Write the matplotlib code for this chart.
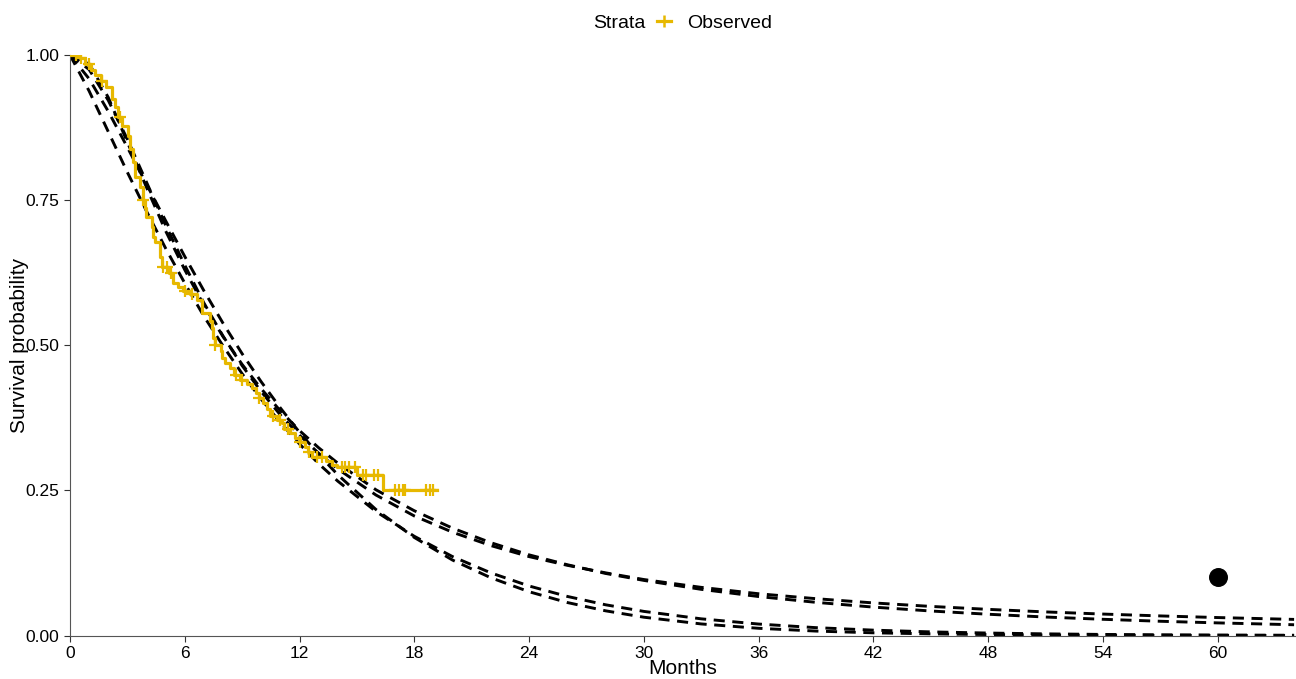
import matplotlib
matplotlib.use("Agg")

import numpy as np
import matplotlib.pyplot as plt
from matplotlib.lines import Line2D

# Kaplan-Meier estimate (step times and survival after each step)
km_time = [0, 0.5, 0.8, 1.1, 1.3, 1.6, 1.9, 2.2, 2.35, 2.5, 2.7, 3.05, 3.15, 3.3, 3.4,
           3.65, 3.8, 3.9, 4.0, 4.3, 4.35, 4.45, 4.7, 4.8, 5.2, 5.4, 5.65, 5.9, 6.3,
           6.65, 6.9, 7.3, 7.4, 7.5, 7.6, 7.9, 7.95, 8.1, 8.35, 8.6, 8.9, 9.25, 9.5,
           9.75, 9.9, 10.1, 10.3, 10.45, 10.8, 11.1, 11.2, 11.5, 11.75, 12.0, 12.3,
           12.45, 12.65, 13.4, 13.7, 13.95, 15.0, 16.35]
km_surv = [1.0, 0.995, 0.985, 0.975, 0.966, 0.955, 0.945, 0.925, 0.91, 0.893, 0.877,
           0.86, 0.838, 0.815, 0.79, 0.773, 0.75, 0.737, 0.721, 0.704, 0.687, 0.678,
           0.652, 0.635, 0.625, 0.607, 0.60, 0.594, 0.588, 0.578, 0.556, 0.542, 0.53,
           0.513, 0.50, 0.49, 0.478, 0.47, 0.461, 0.449, 0.44, 0.434, 0.427, 0.418,
           0.41, 0.40, 0.39, 0.378, 0.372, 0.366, 0.356, 0.349, 0.341, 0.334, 0.325,
           0.317, 0.308, 0.30, 0.294, 0.291, 0.277, 0.251]
km_end = 19.2
censor_time = [0.3, 0.6, 1.0, 1.7, 2.6, 3.8, 4.85, 5.05, 5.3, 6.0, 6.4, 7.6, 8.7,
               9.0, 9.9, 10.6, 11.0, 11.4, 12.0, 12.5, 12.9, 13.2, 14.2, 14.4, 14.6,
               14.9, 15.3, 15.5, 15.9, 16.1, 17.0, 17.2, 17.4, 17.5, 18.6, 18.8, 19.0]

# parametric model extrapolations
fit_months = [0, 1, 2, 3, 4, 5, 6, 7, 8, 9, 10, 11, 12, 13, 14, 16, 18, 20, 22, 24,
              26, 28, 30, 33, 36, 39, 42, 45, 48, 51, 54, 57, 60, 64]
fit_a = [1.0, 0.975, 0.922, 0.855, 0.781, 0.707, 0.638, 0.573, 0.516, 0.465, 0.420,
         0.380, 0.345, 0.314, 0.287, 0.242, 0.206, 0.178, 0.155, 0.136, 0.121, 0.108,
         0.0965, 0.083, 0.072, 0.0635, 0.0562, 0.0502, 0.0451, 0.0407, 0.037, 0.0338,
         0.031, 0.0278]
fit_b = [1.0, 0.985, 0.927, 0.850, 0.772, 0.697, 0.630, 0.569, 0.515, 0.467, 0.425,
         0.387, 0.353, 0.3235, 0.297, 0.251, 0.215, 0.185, 0.160, 0.139, 0.122, 0.107,
         0.095, 0.0796, 0.0672, 0.0572, 0.049, 0.0423, 0.0367, 0.0319, 0.028, 0.0246,
         0.0218, 0.0186]
fit_c = [1.0, 0.938, 0.868, 0.798, 0.731, 0.667, 0.607, 0.550, 0.499, 0.451, 0.407,
         0.367, 0.330, 0.296, 0.266, 0.2136, 0.171, 0.136, 0.108, 0.0854, 0.0674, 0.053,
         0.0416, 0.0288, 0.0198, 0.0136, 0.0093, 0.0063, 0.0043, 0.0029, 0.0019, 0.0013,
         0.0009, 0.0005]
fit_d = [1.0, 0.959, 0.903, 0.841, 0.7775, 0.7146, 0.653, 0.594, 0.538, 0.4855, 0.437,
         0.392, 0.350, 0.312, 0.277, 0.217, 0.169, 0.130, 0.0996, 0.0755, 0.0569, 0.0426,
         0.0316, 0.020, 0.0125, 0.0077, 0.0047, 0.0029, 0.0017, 0.001, 0.0006, 0.0003,
         0.0002, 0.0001]

target_month = [60]
target_surv = [0.10]

x_ticks = [0, 6, 12, 18, 24, 30, 36, 42, 48, 54, 60]
y_ticks = [0.0, 0.25, 0.50, 0.75, 1.00]
y_ticklabels = ["0.00", "0.25", "0.50", "0.75", "1.00"]

km_color = "#E7B800"

plt.rcParams["font.family"] = ["Liberation Sans", "DejaVu Sans"]

fig = plt.figure(figsize=(12.96, 6.79), dpi=100)
ax = fig.add_axes([0.054, 0.064, 0.946, 0.855])

for fit in (fit_a, fit_b, fit_c, fit_d):
    ax.plot(fit_months, fit, color="black", lw=2.1, dashes=(3.8, 2.6), zorder=2)

ax.step(km_time + [km_end], km_surv + [km_surv[-1]], where="post",
        color=km_color, lw=2.3, zorder=3)
idx = np.searchsorted(km_time, censor_time, side="right") - 1
ax.plot(censor_time, np.array(km_surv)[idx], ls="none", marker="+",
        ms=8, mew=1.6, color=km_color, zorder=4)

ax.scatter(target_month, target_surv, s=160, color="black", zorder=5)

ax.set_xlim(0, 64.1)
ax.set_ylim(0, 1)
ax.set_xticks(x_ticks)
ax.set_yticks(y_ticks)
ax.set_yticklabels(y_ticklabels)
ax.tick_params(labelsize=12.5, colors="#333333", length=4, labelcolor="black")
for side in ("top", "right"):
    ax.spines[side].set_visible(False)
for side in ("left", "bottom"):
    ax.spines[side].set_color("#555555")
ax.set_xlabel("Months", fontsize=15, va="center")
ax.xaxis.set_label_coords(0.5, -0.056)
ax.set_ylabel("Survival probability", fontsize=15, va="center")
ax.yaxis.set_label_coords(-0.0415, 0.5)

fig.text(0.458, 0.966, "Strata", fontsize=14, va="center", ha="left")
handle = Line2D([], [], color=km_color, lw=2.3, marker="+", ms=9, mew=1.8)
fig.legend(handles=[handle], labels=["Observed"], loc="center left",
           bbox_to_anchor=(0.507, 0.966), frameon=False, fontsize=14,
           handlelength=0.7, handletextpad=0.85, borderpad=0, borderaxespad=0)

fig.savefig("out.png", dpi=100)
